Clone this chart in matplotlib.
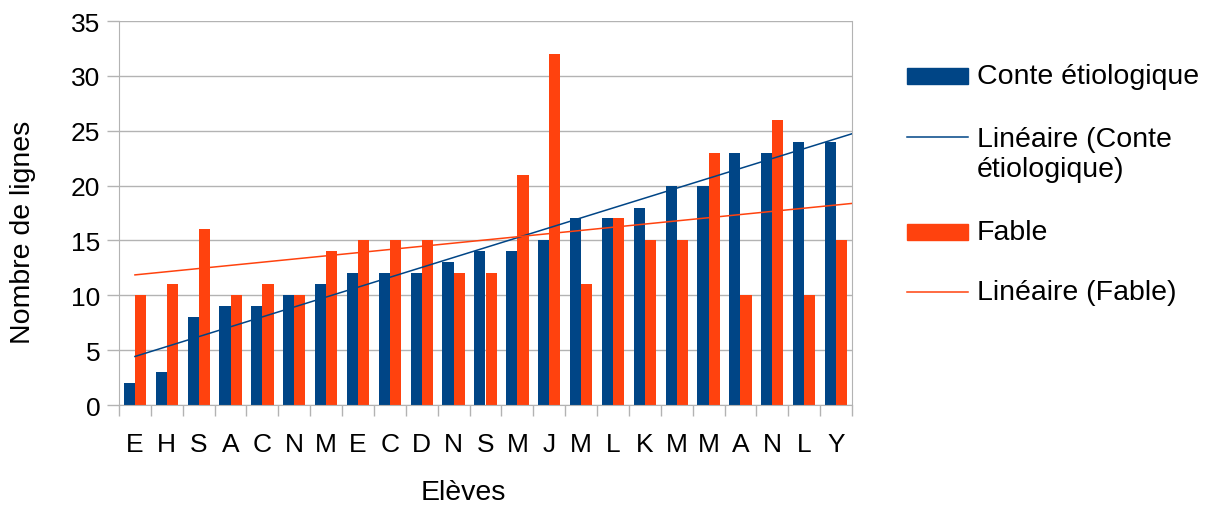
import numpy as np
import matplotlib.pyplot as plt
from matplotlib.patches import Rectangle
from matplotlib.lines import Line2D

# Données du graphique
eleves = ['E', 'H', 'S', 'A', 'C', 'N', 'M', 'E', 'C', 'D', 'N', 'S',
          'M', 'J', 'M', 'L', 'K', 'M', 'M', 'A', 'N', 'L', 'Y']
conte = [2, 3, 8, 9, 9, 10, 11, 12, 12, 12, 13, 14,
         14, 15, 17, 17, 18, 20, 20, 23, 23, 24, 24]
fable = [10, 11, 16, 10, 11, 10, 14, 15, 15, 15, 12, 12,
         21, 32, 11, 17, 15, 15, 23, 10, 26, 10, 15]

BLEU = '#004586'
ORANGE = '#ff420e'
GRIS = '#b3b3b3'
W, H = 1214, 506

plt.rcParams['font.family'] = ['Liberation Sans', 'DejaVu Sans']

def px(x, y):
    # pixels (origine en haut à gauche) -> coordonnées figure
    return x / W, 1 - y / H

def tracer():
    fig = plt.figure(figsize=(W / 100, H / 100), dpi=100)
    ax = fig.add_axes([119 / W, 1 - 406 / H, 733 / W, 384 / H])

    x = np.arange(len(eleves))
    w = 0.35
    ax.bar(x - w / 2, conte, width=w, color=BLEU, zorder=2)
    ax.bar(x + w / 2, fable, width=w, color=ORANGE, zorder=2)

    # Courbes de tendance linéaires
    xt = np.array([0, len(eleves) - 0.5])
    for serie, couleur in ((conte, BLEU), (fable, ORANGE)):
        a, b = np.polyfit(x, serie, 1)
        ax.plot(xt, a * xt + b, color=couleur, linewidth=1.1, zorder=3)

    ax.set_xlim(-0.5, len(eleves) - 0.5)
    ax.set_ylim(0, 35)
    ax.set_yticks(range(0, 36, 5))

    # Graduations aux limites des catégories, étiquettes au centre
    ax.set_xticks(np.arange(-0.5, len(eleves), 1))
    ax.set_xticklabels([])
    ax.set_xticks(x, minor=True)
    ax.set_xticklabels(eleves, minor=True)
    ax.tick_params(axis='x', which='major', length=8, color=GRIS, width=1)
    ax.tick_params(axis='x', which='minor', length=0, pad=19.5, labelsize=19)
    ax.tick_params(axis='y', length=8.5, color=GRIS, width=1, pad=5, labelsize=19)

    ax.grid(axis='y', color=GRIS, linewidth=1, zorder=0)
    ax.set_axisbelow(True)
    for s in ax.spines.values():
        s.set_color(GRIS)
    ax.spines['top'].set_visible(False)

    fig.text(*px(463, 493), 'Elèves', ha='center', va='center', fontsize=20.5)
    fig.text(*px(23, 232), 'Nombre de lignes', ha='center', va='center',
             rotation=90, fontsize=20.5)

    # Légende
    x0, x1, xtxt = 907, 968, 977
    entrees = [('patch', BLEU, 77, 77, 'Conte étiologique'),
               ('ligne', BLEU, 138, 155, 'Linéaire (Conte\nétiologique)'),
               ('patch', ORANGE, 233, 233, 'Fable'),
               ('ligne', ORANGE, 293, 293, 'Linéaire (Fable)')]
    for genre, couleur, yh, yt, texte in entrees:
        if genre == 'patch':
            gx, gy = px(x0, yh + 8)
            fig.add_artist(Rectangle((gx, gy), (x1 - x0) / W, 16 / H,
                                     transform=fig.transFigure, color=couleur))
        else:
            (ax0, ay), (ax1, _) = px(x0, yh), px(x1, yh)
            fig.add_artist(Line2D([ax0, ax1], [ay, ay], transform=fig.transFigure,
                                  color=couleur, linewidth=1.1))
        fig.text(*px(xtxt, yt), texte, ha='left', va='center', fontsize=20.5,
                 linespacing=1.2)

    fig.savefig('out.png', dpi=100)

if __name__ == "__main__":
    tracer()
